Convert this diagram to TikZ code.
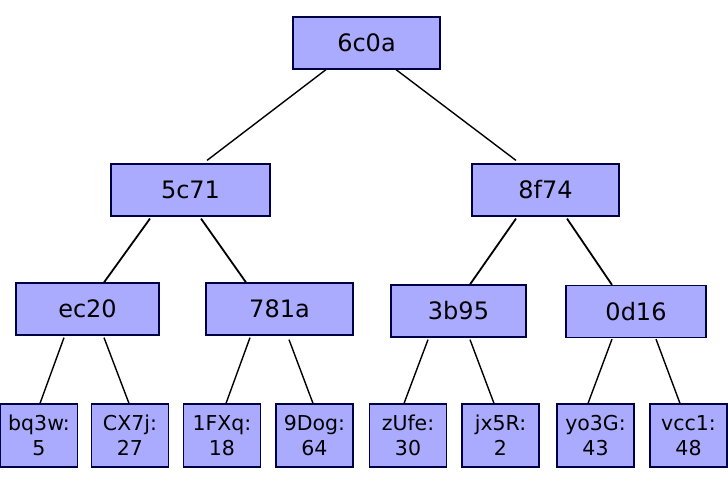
\documentclass[tikz,border=0pt]{standalone}
\usepackage{fontspec}
\setmainfont{DejaVu Sans}
\definecolor{boxfill}{HTML}{AAAAFF}
\definecolor{boxline}{HTML}{000044}
\begin{document}
\begin{tikzpicture}[x=1pt,y=-1pt,
  tbox/.style={draw=boxline,fill=boxfill,line width=1.2pt,inner sep=0pt,rectangle},
  inner/.style={tbox,minimum height=52pt,font=\fontsize{24}{27}\selectfont},
  leaf/.style={tbox,minimum height=63pt,minimum width=77pt,align=center,font=\fontsize{20.5}{25}\selectfont},
  edge/.style={draw=black,line width=1.4pt},
  thick edge/.style={draw=black,line width=1.8pt}]
\useasboundingbox (0,0) rectangle (728,485);
\node[inner,minimum width=147pt] (r) at (366.5,43) {6c0a};
\node[inner,minimum width=159pt] (a) at (190.5,190) {5c71};
\node[inner,minimum width=147pt] (b) at (545.5,190) {8f74};
\node[inner,minimum width=143pt] (c) at (87.5,309) {ec20};
\node[inner,minimum width=147pt] (d) at (279.5,309) {781a};
\node[inner,minimum width=135pt] (e) at (458.5,311) {3b95};
\node[inner,minimum width=140pt] (f) at (636,311.5) {0d16};
\node[leaf] (l1) at (39,435.5) {bq3w:\\5};
\node[leaf] (l2) at (130,435.5) {CX7j:\\27};
\node[leaf] (l3) at (222,435.5) {1FXq:\\18};
\node[leaf] (l4) at (314.5,435.5) {9Dog:\\64};
\node[leaf] (l5) at (408,435.5) {zUfe:\\30};
\node[leaf] (l6) at (500.5,435.5) {jx5R:\\2};
\node[leaf] (l7) at (595.5,435.5) {yo3G:\\43};
\node[leaf] (l8) at (688.5,435.5) {vcc1:\\48};
\draw[edge] ([xshift=-40.5pt]r.south) -- ([xshift=16.5pt,yshift=3pt]a.north);
\draw[edge] ([xshift=29.5pt]r.south) -- ([xshift=-29.5pt,yshift=3pt]b.north);
\draw[thick edge] ([xshift=-40.5pt,yshift=-2pt]a.south) -- ([xshift=16.5pt]c.north);
\draw[thick edge] ([xshift=10.5pt,yshift=-2pt]a.south) -- ([xshift=-33.5pt]d.north);
\draw[thick edge] ([xshift=-29.5pt,yshift=-2pt]b.south) -- ([xshift=11.5pt]e.north);
\draw[thick edge] ([xshift=21.5pt,yshift=-2pt]b.south) -- ([xshift=-24pt]f.north);
\draw[edge] ([xshift=-23.5pt,yshift=-2pt]c.south) -- ([xshift=1pt]l1.north);
\draw[edge] ([xshift=16.5pt,yshift=-2pt]c.south) -- ([xshift=-1pt]l2.north);
\draw[edge] ([xshift=-29.5pt,yshift=-2pt]d.south) -- ([xshift=4pt]l3.north);
\draw[edge] ([xshift=9.5pt,yshift=-4pt]d.south) -- ([xshift=-1.5pt]l4.north);
\draw[edge] ([xshift=-30.5pt,yshift=-2pt]e.south) -- ([xshift=-4pt]l5.north);
\draw[edge] ([xshift=11.5pt,yshift=-2pt]e.south) -- ([xshift=-6.5pt]l6.north);
\draw[edge] ([xshift=-24pt,yshift=-1pt]f.south) -- ([xshift=-7.5pt]l7.north);
\draw[edge] ([xshift=20pt,yshift=-1pt]f.south) -- ([xshift=-8.5pt]l8.north);
\end{tikzpicture}
\end{document}
